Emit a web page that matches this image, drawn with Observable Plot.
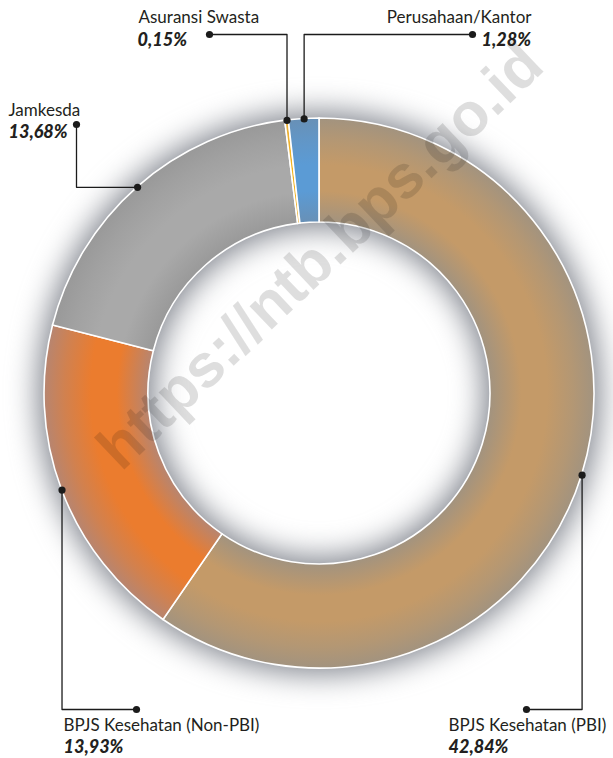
<!DOCTYPE html>
<html><head><meta charset="utf-8">
<script src="https://cdn.jsdelivr.net/npm/d3@7"></script>
<script src="https://cdn.jsdelivr.net/npm/@observablehq/plot@0.6"></script>
<style>
body{margin:0;background:#fff}
g[aria-label=pct] text{letter-spacing:-1.6px}
</style></head>
<body><div id="chart"></div>
<script>
// ---- data ----
const categories = ["BPJS Kesehatan (PBI)", "BPJS Kesehatan (Non-PBI)", "Jamkesda", "Asuransi Swasta", "Perusahaan/Kantor"];
const values = [42.84, 13.93, 13.68, 0.15, 1.28];
const watermark = "https://ntb.bps.go.id";

// ---- styles ----
const fillMid  = {"BPJS Kesehatan (PBI)":"#c49a68","BPJS Kesehatan (Non-PBI)":"#eb7c2e","Jamkesda":"#a9a9a9","Asuransi Swasta":"#f2b21e","Perusahaan/Kantor":"#5b9bd5"};
const fillEdge = {"BPJS Kesehatan (PBI)":"#a2937f","BPJS Kesehatan (Non-PBI)":"#b78570","Jamkesda":"#999999","Asuransi Swasta":"#e8b040","Perusahaan/Kantor":"#6890b6"};

// ---- layout ----
const W = 613, H = 758;
const center = {x: 319, y: 393}, rOuter = 275, rInner = 171;
const layout = {
  "BPJS Kesehatan (PBI)":     {tx: 448, anchor: "start", px: 448, route: "v", ex: 526, ey: 709, ty: 730, py: 752},
  "BPJS Kesehatan (Non-PBI)": {tx: 63,  anchor: "start", px: 63,  route: "v", ex: 136, ey: 709, ty: 730, py: 752},
  "Jamkesda":                 {tx: 8,   anchor: "start", px: 8,   route: "h", ex: 76,  ey: 124, ty: 115, py: 137},
  "Asuransi Swasta":          {tx: 138, anchor: "start", px: 137, route: "v", ex: 209, ey: 34,  ty: 22,  py: 45},
  "Perusahaan/Kantor":        {tx: 531, anchor: "end",   px: 481, route: "v", ex: 472, ey: 34,  ty: 22,  py: 45}
};

const data = categories.map((c, i) => ({category: c, value: values[i], label: values[i].toFixed(2).replace(".", ",") + "%"}));
const arcs = d3.pie().sort(null).value(d => d.value)(data);
arcs.forEach(a => {
  a.mid = (a.startAngle + a.endAngle) / 2;
  a.dx = center.x + rOuter * Math.sin(a.mid);
  a.dy = center.y - rOuter * Math.cos(a.mid);
  a.lay = layout[a.data.category];
});

const leader = [];
arcs.forEach(a => {
  const L = a.lay, c = a.data.category;
  const pts = L.route === "v"
    ? [[a.dx, a.dy], [a.dx, L.ey], [L.ex, L.ey]]
    : [[a.dx, a.dy], [L.ex, a.dy], [L.ex, L.ey]];
  pts.forEach(p => leader.push({category: c, x: p[0], y: p[1]}));
});
const dots = arcs.flatMap(a => [{x: a.dx, y: a.dy}, {x: a.lay.ex, y: a.lay.ey}]);

function donut(index, scales) {
  const cx = scales.x(center.x), cy = scales.y(center.y);
  const ro = scales.x(center.x + rOuter) - cx, ri = scales.x(center.x + rInner) - cx;
  const g = d3.create("svg:g");
  const defs = g.append("defs");
  const k = ri / ro;
  arcs.forEach((a, i) => {
    const gr = defs.append("radialGradient").attr("id", "grad" + i).attr("gradientUnits", "userSpaceOnUse")
      .attr("cx", 0).attr("cy", 0).attr("r", ro);
    const m = fillMid[a.data.category], e = fillEdge[a.data.category];
    [[k, e], [k + (1 - k) * 0.3, m], [k + (1 - k) * 0.55, m], [k + (1 - k) * 0.8, d3.interpolateRgb(m, e)(0.5)], [1, e]]
      .forEach(([o, c]) => gr.append("stop").attr("offset", o).attr("stop-color", c));
  });
  const arc = d3.arc().innerRadius(ri).outerRadius(ro);
  const body = g.append("g").attr("transform", `translate(${cx},${cy})`);
  body.append("path")
    .attr("d", d3.arc().innerRadius(ri - 6).outerRadius(ro + 6)({startAngle: 0, endAngle: 2 * Math.PI}))
    .attr("fill", "#80848d")
    .style("filter", "blur(15px)");
  body.append("g").selectAll("path").data(arcs).join("path")
    .attr("d", arc)
    .attr("fill", (d, i) => `url(#grad${i})`)
    .attr("stroke", "#fff").attr("stroke-width", 1.6);
  return g.node();
}

const startLabels = arcs.filter(a => a.lay.anchor === "start");
const endLabels = arcs.filter(a => a.lay.anchor === "end");
const nameStyle = {text: d => d.data.category, lineAnchor: "bottom", fontFamily: "Lato", fontSize: 17, fill: "#231f20"};

const chart = Plot.plot({
  width: W, height: H, margin: 0,
  x: {domain: [0, W], range: [0, W], axis: null},
  y: {domain: [0, H], range: [0, H], axis: null},
  style: {background: "#fff", overflow: "visible"},
  marks: [
    donut,
    Plot.text([{t: watermark, x: 320, y: 256}], {x: "x", y: "y", text: "t", rotate: -43.5, fontSize: 61, fontWeight: "bold", fontFamily: "Liberation Sans", fill: "#000", fillOpacity: 0.13}),
    Plot.line(leader, {x: "x", y: "y", z: "category", stroke: "#1b1b1b", strokeWidth: 1.3, curve: "linear"}),
    Plot.dot(dots, {x: "x", y: "y", r: 3.6, fill: "#1b1b1b"}),
    Plot.text(startLabels, {x: d => d.lay.tx, y: d => d.lay.ty, textAnchor: "start", ...nameStyle}),
    Plot.text(endLabels, {x: d => d.lay.tx, y: d => d.lay.ty, textAnchor: "end", ...nameStyle}),
    Plot.text(arcs, {x: d => d.lay.px, y: d => d.lay.py, text: d => d.data.label, textAnchor: "start", lineAnchor: "bottom", fontFamily: "Lato", fontStyle: "italic", fontWeight: 900, fontSize: 18, fill: "#231f20", ariaLabel: "pct"})
  ]
});
document.getElementById("chart").appendChild(chart);
</script>
</body></html>
